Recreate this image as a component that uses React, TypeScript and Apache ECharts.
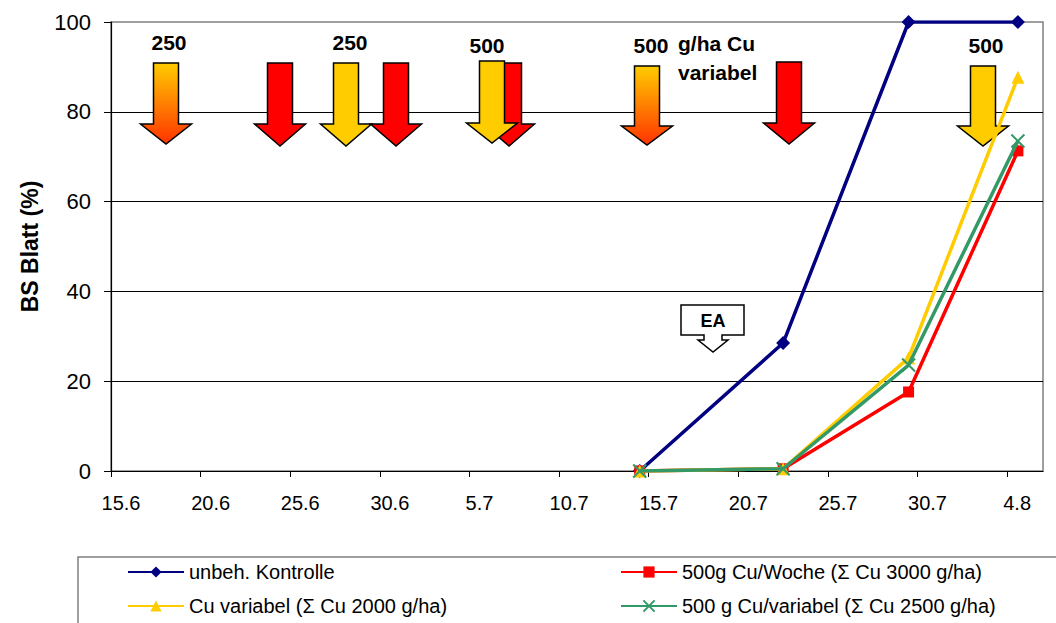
import React, { useEffect, useRef } from "react";
import * as echarts from "echarts";

// x values: days after 15.6 (first tick); ticks every 5 days
const START_MONTH = 5; // June (0-based)
const START_DAY = 15;
const dayOffsets = [29.5, 37.5, 44.5, 50.6];
const kontrolle = [0, 28.5, 100, 100];
const wocheCu = [0, 0.5, 17.6, 71.3];
const variabelCu = [0, 0.5, 25.2, 87.7];
const mixCu = [0, 0.5, 23.6, 73.5];
const seriesNames = [
  "unbeh. Kontrolle",
  "500g Cu/Woche (Σ Cu 3000 g/ha)",
  "Cu variabel (Σ Cu 2000 g/ha)",
  "500 g Cu/variabel (Σ Cu 2500 g/ha)",
];
const yName = "BS Blatt (%)";
const arrowLabels = ["250", "250", "500", "500", "500"];
const noteLines = ["g/ha Cu", "variabel"];
const eaLabel = "EA";

const FONT = "'Liberation Sans', Arial, sans-serif";
const YELLOW = "#FFCC00";
const RED = "#FF0000";
const BLUE = "#000080";
const GREEN = "#339966";

function fmtDate(v: number) {
  const d = new Date(2001, START_MONTH, START_DAY + Math.round(v));
  return d.getDate() + "." + (d.getMonth() + 1);
}

function arrowPts(cx: number, top: number, headBase: number, tip: number, sh = 12.5, hh = 25.5) {
  return [
    [cx - sh, top],
    [cx + sh, top],
    [cx + sh, headBase],
    [cx + hh, headBase],
    [cx, tip],
    [cx - hh, headBase],
    [cx - sh, headBase],
  ];
}

export default function App() {
  const ref = useRef<HTMLDivElement>(null);
  useEffect(() => {
    document.body.style.margin = "0";
    const chart = echarts.init(ref.current!, null, { renderer: "svg" });
    const grad = () =>
      new echarts.graphic.LinearGradient(0, 0, 0, 1, [
        { offset: 0, color: "#FFCC00" },
        { offset: 1, color: "#FF3300" },
      ]);
    const arrowDefs: any[] = [
      [166, 63, 124, 144, "g"],
      [280, 63, 124, 146, RED],
      [346, 63, 124, 146, YELLOW],
      [396, 63, 124, 146, RED],
      [509, 63, 124, 146, RED],
      [492, 61, 123, 143, YELLOW],
      [647, 66, 126, 145, "g"],
      [789, 62, 123, 144, RED],
      [983, 66, 126, 146, YELLOW],
    ];
    const arrowEls = arrowDefs.map((a) => ({
      type: "polygon",
      shape: { points: arrowPts(a[0], a[1], a[2], a[3]) },
      style: { fill: a[4] === "g" ? grad() : a[4], stroke: "#000", lineWidth: 1.5 },
      z: 1,
    }));
    const labelPos = [
      [169, 42],
      [350, 42],
      [487, 45],
      [651, 45],
      [986, 45],
    ];
    const labelEls = arrowLabels.map((t, i) => ({
      type: "text",
      x: labelPos[i][0],
      y: labelPos[i][1],
      style: {
        text: t,
        font: `bold 21px ${FONT}`,
        fill: "#000",
        align: "center",
        verticalAlign: "middle",
      },
      z: 1,
    }));
    const noteEls = noteLines.map((t, i) => ({
      type: "text",
      x: 678,
      y: 43 + i * 29,
      style: { text: t, font: `bold 21px ${FONT}`, fill: "#000", align: "left", verticalAlign: "middle" },
      z: 1,
    }));
    const eaPts = [
      [681, 305],
      [744, 305],
      [744, 335],
      [722, 335],
      [722, 340],
      [728, 340],
      [713, 352],
      [698, 340],
      [704, 340],
      [704, 335],
      [681, 335],
    ];
    const mk = (ys: number[]) => dayOffsets.map((x, i) => [x, ys[i]]);
    const xSym = "path://M0,0L10,10M10,0L0,10";
    chart.setOption({
      animation: false,
      grid: {
        left: 111,
        top: 22,
        right: 13,
        bottom: 152,
        show: true,
        borderColor: "#808080",
        borderWidth: 1.5,
        backgroundColor: "#fff",
      },
      xAxis: {
        type: "value",
        min: 0,
        max: 52,
        interval: 5,
        axisLine: { show: true, onZero: false, lineStyle: { color: "#000", width: 1.2 } },
        axisTick: { show: true, inside: false, length: 6, lineStyle: { color: "#000" } },
        splitLine: { show: false },
        axisLabel: {
          color: "#000",
          fontFamily: FONT,
          fontSize: 20,
          margin: 22,
          padding: [0, 0, 0, 20],
          showMaxLabel: false,
          formatter: (v: number) => (v % 5 === 0 ? fmtDate(v) : ""),
        },
      },
      yAxis: {
        type: "value",
        min: 0,
        max: 100,
        interval: 20,
        name: yName,
        nameLocation: "middle",
        nameGap: 70,
        nameTextStyle: { fontFamily: FONT, fontWeight: "bold", fontSize: 23, color: "#000" },
        axisLine: { show: true, lineStyle: { color: "#000", width: 1.2 } },
        axisTick: { show: true, inside: false, length: 7, lineStyle: { color: "#000" } },
        splitLine: { show: true, showMaxLine: false, lineStyle: { color: "#000", width: 1 } },
        axisLabel: { color: "#000", fontFamily: FONT, fontSize: 22, margin: 20 },
      },
      legend: [0, 1, 2, 3].map((i) => ({
        data: [seriesNames[i]],
        left: i % 2 === 0 ? 127 : 620,
        top: i < 2 ? 562 : 596,
        itemWidth: 56,
        itemHeight: 14,
        itemGap: 0,
        padding: 0,
        textStyle: { fontFamily: FONT, fontSize: 20, color: "#000" },
        selectedMode: false,
      })),
      series: [
        {
          name: seriesNames[0],
          type: "line",
          data: mk(kontrolle),
          symbol: "diamond",
          symbolSize: 14,
          itemStyle: { color: BLUE },
          lineStyle: { color: BLUE, width: 3.5 },
          z: 3,
        },
        {
          name: seriesNames[1],
          type: "line",
          data: mk(wocheCu),
          symbol: "rect",
          symbolSize: 11,
          itemStyle: { color: RED },
          lineStyle: { color: RED, width: 3.5 },
          z: 4,
        },
        {
          name: seriesNames[2],
          type: "line",
          data: mk(variabelCu),
          symbol: "triangle",
          symbolSize: 13,
          itemStyle: { color: YELLOW },
          lineStyle: { color: YELLOW, width: 3.5 },
          z: 5,
        },
        {
          name: seriesNames[3],
          type: "line",
          data: mk(mixCu),
          symbol: xSym,
          symbolSize: 13,
          itemStyle: { color: GREEN, borderColor: GREEN, borderWidth: 2 },
          lineStyle: { color: GREEN, width: 3.5 },
          z: 6,
        },
      ],
      graphic: [
        {
          type: "rect",
          shape: { x: 78, y: 557, width: 1000, height: 100 },
          style: { fill: "none", stroke: "#808080", lineWidth: 1.5 },
          z: 0,
        },
        ...arrowEls,
        ...labelEls,
        ...noteEls,
        {
          type: "polygon",
          shape: { points: eaPts },
          style: { fill: "#fff", stroke: "#000", lineWidth: 1.5 },
          z: 1,
        },
        {
          type: "text",
          x: 713,
          y: 321,
          style: { text: eaLabel, font: `bold 18px ${FONT}`, fill: "#000", align: "center", verticalAlign: "middle" },
          z: 1,
        },
      ],
    });
    return () => chart.dispose();
  }, []);
  return <div ref={ref} style={{ width: 1056, height: 623 }} />;
}
